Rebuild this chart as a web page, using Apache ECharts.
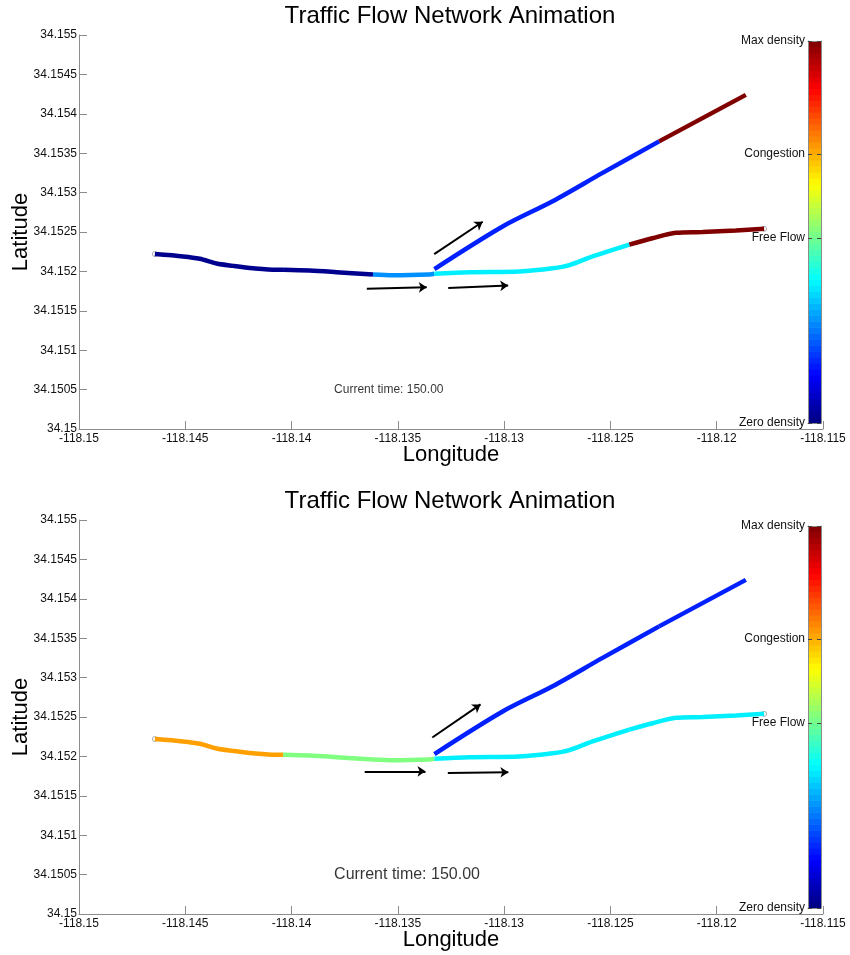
<!DOCTYPE html>
<html>
<head>
<meta charset="utf-8">
<style>html,body{margin:0;padding:0;background:#fff}#c{width:850px;height:955px}</style>
<script src="https://cdn.jsdelivr.net/npm/echarts@6/dist/echarts.min.js"></script>
</head>
<body>
<div id="c"></div>
<script>
// Axis ticks
const lonTicks = [-118.15,-118.145,-118.14,-118.135,-118.13,-118.125,-118.12,-118.115];
const latTicks = [34.15,34.1505,34.151,34.1515,34.152,34.1525,34.153,34.1535,34.154,34.1545,34.155];
const titleText = 'Traffic Flow Network Animation';
const timeText = 'Current time: 150.00';
const timeAnchor = [-118.138, 34.1505];

// Road geometry [lon, lat]
const westA = [[-118.14643,34.15222],[-118.1451,34.15219],[-118.14432,34.15216],[-118.14353,34.1521],[-118.14275,34.15207],[-118.14181,34.15204],[-118.14071,34.15202],[-118.1404,34.15202]];
const westB = [[-118.1404,34.15202],[-118.13915,34.15201],[-118.13789,34.15199],[-118.13617,34.15196]];
const westC = [[-118.13617,34.15196],[-118.13523,34.15195],[-118.13351,34.15196],[-118.13328,34.15197]];
const lowerA = [[-118.13328,34.15197],[-118.13163,34.15199],[-118.12928,34.152],[-118.12772,34.15204],[-118.12693,34.15208],[-118.12584,34.15219],[-118.12411,34.15234]];
const lowerB = [[-118.12411,34.15234],[-118.12302,34.15242],[-118.12192,34.15249],[-118.12067,34.1525],[-118.1191,34.15252],[-118.11777,34.15254]];
const upperA = [[-118.13328,34.15203],[-118.13007,34.15257],[-118.12772,34.15289],[-118.12537,34.15325],[-118.12271,34.15365]];
const upperB = [[-118.12271,34.15365],[-118.11863,34.15424]];
const roadEnds = [[-118.14643,34.15222],[-118.11777,34.15254]];

// Flow arrows
const arrowsTop = [
  [[-118.13646,34.15178],[-118.13364,34.1518]],
  [[-118.13263,34.15179],[-118.12981,34.15182]],
  [[-118.13329,34.15222],[-118.13101,34.15263]]
];
const arrowsBottom = [
  [[-118.13656,34.15181],[-118.1337,34.15181]],
  [[-118.13265,34.15179],[-118.1298,34.1518]],
  [[-118.13338,34.15224],[-118.13111,34.15266]]
];

// Colour-coded road pieces per panel
const navy='#00008f', sky='#0090ff', cyan='#00f0ff', darkRed='#800000', blue='#0020ff', orange='#ffa000', green='#80ff80';
const piecesTop = [
  [westA,navy],[westB,navy],[westC,sky],[lowerA,cyan],[lowerB,darkRed],[upperA,blue],[upperB,darkRed]
];
const piecesBottom = [
  [westA,orange],[westB,green],[westC,green],[lowerA,cyan],[lowerB,cyan],[upperA,blue],[upperB,blue]
];

// Colour bar
const barLevels = [1,2,3,4,5,6,7,8,9,10,11,12,13,14,15,16,17,18,19,20,21,22,23,24,25,26,27,28,29,30,31,32,33,34,35,36,37,38,39,40,41,42,43,44,45,46,47,48,49,50,51,52,53,54,55,56,57,58,59,60,61,62,63,64];
const barTicks = [0,0.484,0.704,1];
const barLabels = {0:'Zero density',0.484:'Free Flow',0.704:'Congestion',1:'Max density'};

const FONT = '"Liberation Sans", Arial, sans-serif';
const GRAY = '#8c8c8c';
function jet(level){
  const t=(level-0.5)/barLevels.length;
  const c=v=>Math.round(255*Math.max(0,Math.min(1,1.5-Math.abs(v))));
  return `rgb(${c(4*t-3)},${c(4*t-2)},${c(4*t-1)})`;
}

const opt = {animation:false,backgroundColor:'#fff',textStyle:{fontFamily:FONT},
  title:[],grid:[],xAxis:[],yAxis:[],series:[]};

function panel(top,pieces,arrows,timeSize){
  const g=opt.grid.length, xi=opt.xAxis.length, yi=opt.yAxis.length;
  opt.title.push({text:titleText,left:445,top:top-36,textAlign:'center',
    textStyle:{fontFamily:FONT,fontSize:24,fontWeight:'normal',color:'#000'}});
  opt.grid.push({left:79,top:top,width:744,height:394,outerBoundsMode:'none',containLabel:false});
  const line={show:true,onZero:false,lineStyle:{color:GRAY,width:1}};
  const tickStyle={color:GRAY,width:1};
  opt.xAxis.push({gridIndex:g,type:'value',min:-118.15,max:-118.115,position:'bottom',
    name:'Longitude',nameLocation:'middle',nameGap:15,nameMoveOverlap:false,
    nameTextStyle:{fontFamily:FONT,fontSize:22,color:'#000'},
    axisLine:line,splitLine:{show:false},
    axisTick:{show:true,inside:true,length:8,lineStyle:tickStyle,customValues:lonTicks},
    axisLabel:{margin:4,fontFamily:FONT,fontSize:12,color:'#111',customValues:lonTicks,
      showMinLabel:true,showMaxLabel:true,hideOverlap:false,formatter:v=>String(+(+v).toFixed(3))}});
  opt.yAxis.push({gridIndex:g,type:'value',min:34.15,max:34.155,position:'left',
    name:'Latitude',nameLocation:'middle',nameGap:47,nameMoveOverlap:false,
    nameTextStyle:{fontFamily:FONT,fontSize:22,color:'#000'},
    axisLine:line,splitLine:{show:false},
    axisTick:{show:true,inside:true,length:8,lineStyle:tickStyle,customValues:latTicks},
    axisLabel:{margin:2,padding:[6,0,0,0],fontFamily:FONT,fontSize:12,color:'#111',customValues:latTicks,
      showMinLabel:true,showMaxLabel:true,hideOverlap:false,formatter:v=>String(+(+v).toFixed(4))}});
  opt.series.push({type:'scatter',xAxisIndex:xi,yAxisIndex:yi,data:roadEnds,symbolSize:5,z:1,
    itemStyle:{color:'#fff',borderColor:'#999',borderWidth:1},silent:true});
  pieces.forEach(([pts,col])=>opt.series.push({type:'line',xAxisIndex:xi,yAxisIndex:yi,data:pts,
    showSymbol:false,symbol:'none',smooth:0.3,z:3,lineStyle:{color:col,width:4.5,cap:'butt'}}));
  opt.series.push({type:'lines',coordinateSystem:'cartesian2d',xAxisIndex:xi,yAxisIndex:yi,z:4,
    symbol:['none','arrow'],symbolSize:8,
    lineStyle:{color:'#000',width:2,opacity:1},
    data:arrows.map(a=>({coords:a}))});
  opt.series.push({type:'scatter',xAxisIndex:xi,yAxisIndex:yi,data:[timeAnchor],symbolSize:0,z:4,
    label:{show:true,position:'right',distance:0,formatter:timeText,fontFamily:FONT,fontSize:timeSize,color:'#000'}});
}

function colorbar(top){
  const g=opt.grid.length, xi=opt.xAxis.length, yi=opt.yAxis.length;
  opt.grid.push({left:808,top:top,width:13,height:382,outerBoundsMode:'none',containLabel:false});
  const edge={show:true,onZero:false,lineStyle:{color:GRAY,width:1}};
  opt.xAxis.push({gridIndex:g,type:'value',min:0,max:1,position:'bottom',z:5,axisLine:edge,axisTick:{show:false},axisLabel:{show:false},splitLine:{show:false}});
  opt.xAxis.push({gridIndex:g,type:'value',min:0,max:1,position:'top',z:5,axisLine:edge,axisTick:{show:false},axisLabel:{show:false},splitLine:{show:false}});
  opt.yAxis.push({gridIndex:g,type:'category',data:barLevels,show:false,boundaryGap:true});
  opt.yAxis.push({gridIndex:g,type:'value',min:0,max:1,position:'left',z:5,axisLine:edge,splitLine:{show:false},
    axisTick:{show:true,inside:true,length:4,lineStyle:{color:'#444',width:1},customValues:barTicks},
    axisLabel:{margin:3,padding:[4,0,0,0],fontFamily:FONT,fontSize:12,color:'#111',customValues:barTicks,
      showMinLabel:true,showMaxLabel:true,hideOverlap:false,formatter:v=>barLabels[+v]}});
  opt.yAxis.push({gridIndex:g,type:'value',min:0,max:1,position:'right',z:5,axisLine:edge,splitLine:{show:false},
    axisTick:{show:true,inside:true,length:4,lineStyle:{color:'#444',width:1},customValues:barTicks},
    axisLabel:{show:false}});
  opt.series.push({type:'bar',xAxisIndex:xi,yAxisIndex:yi,barWidth:6.6,z:2,silent:true,
    data:barLevels.map(l=>({value:1,itemStyle:{color:jet(l)}}))});
}

panel(35,piecesTop,arrowsTop,12);
panel(520,piecesBottom,arrowsBottom,16);
colorbar(41);
colorbar(526);

echarts.init(document.getElementById('c'),null,{renderer:'canvas'}).setOption(opt);
</script>
</body>
</html>
